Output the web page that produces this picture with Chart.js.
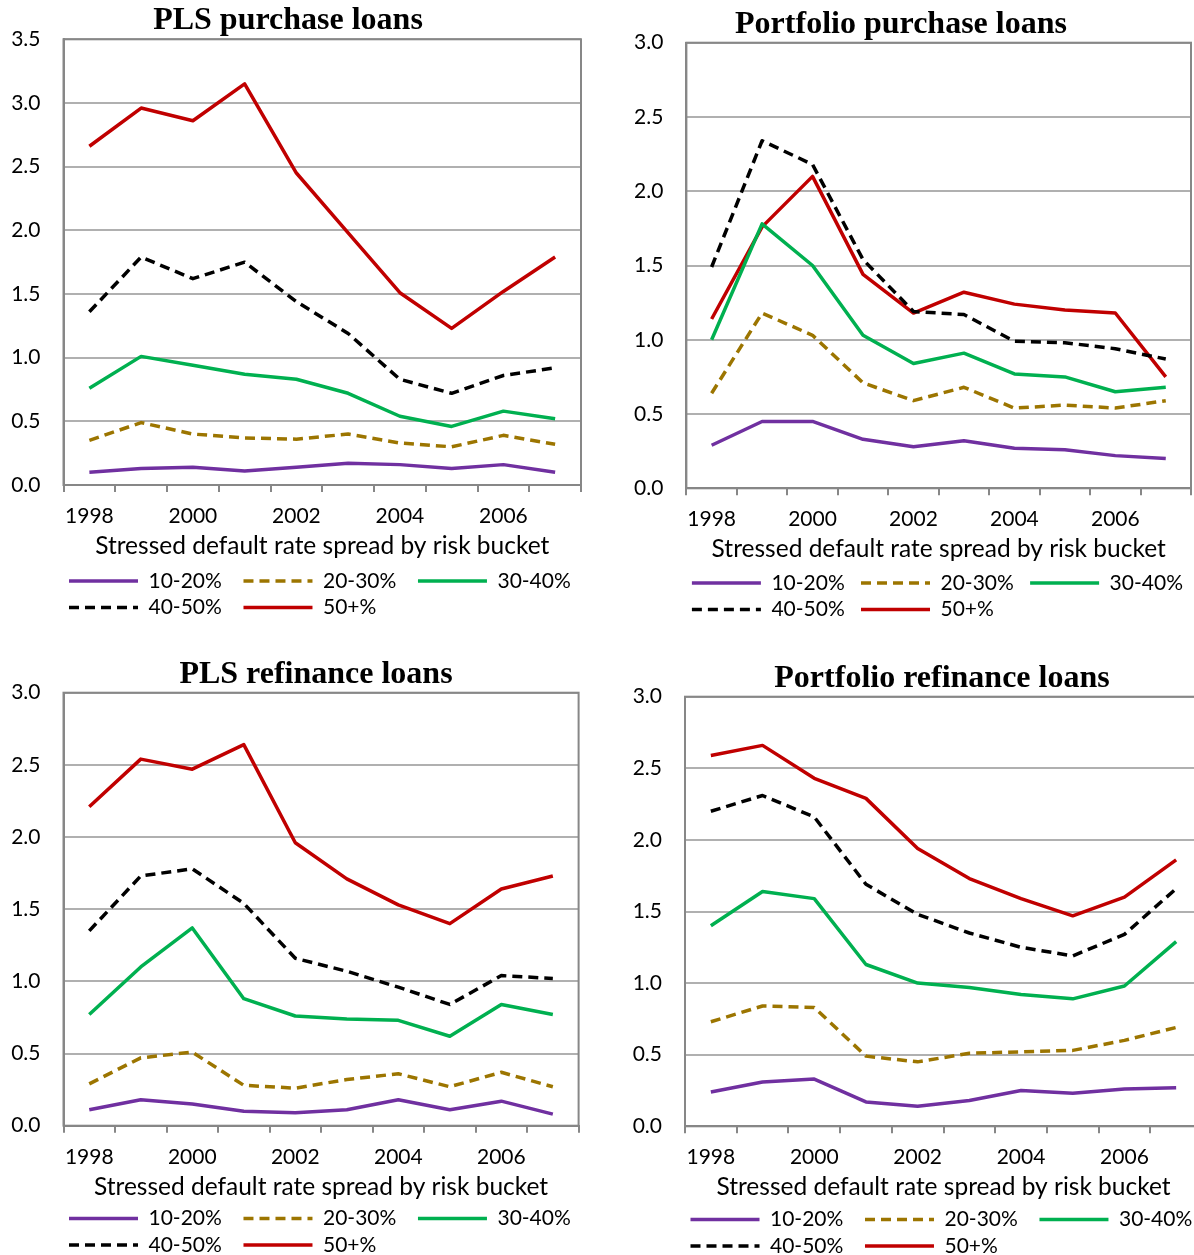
<!DOCTYPE html>
<html lang="en">
<head>
    <meta charset="UTF-8">
    <script src="https://cdn.jsdelivr.net/npm/chart.js"></script>
    <title>Stressed default rate spread by risk bucket</title>
    <style>
        html, body { margin: 0; padding: 0; background: #fff; overflow: hidden; width: 1194px; height: 1255px; }
        canvas { position: absolute; }
    </style>
</head>
<body>
    <canvas id="plsPurchaseChart" width="600" height="630" style="left:-10px; top:0px;"></canvas>
    <canvas id="portPurchaseChart" width="594" height="632" style="left:600px; top:0px;"></canvas>
    <canvas id="plsRefiChart" width="632" height="636" style="left:0px; top:630px;"></canvas>
    <canvas id="portRefiChart" width="684" height="637" style="left:600px; top:630px;"></canvas>
    <script>
        // categories and series names
        const years = ['1998', '1999', '2000', '2001', '2002', '2003', '2004', '2005', '2006', '2007'];
        const buckets = ['10-20%', '20-30%', '30-40%', '40-50%', '50+%'];
        const yTicks = [0, 0.5, 1.0, 1.5, 2.0, 2.5, 3.0, 3.5];

        // PLS purchase loans
        const plsPurchase1020 = [0.10, 0.13, 0.14, 0.11, 0.14, 0.17, 0.16, 0.13, 0.16, 0.10];
        const plsPurchase2030 = [0.35, 0.49, 0.40, 0.37, 0.36, 0.40, 0.33, 0.30, 0.39, 0.32];
        const plsPurchase3040 = [0.76, 1.01, 0.94, 0.87, 0.83, 0.72, 0.54, 0.46, 0.58, 0.52];
        const plsPurchase4050 = [1.36, 1.79, 1.62, 1.75, 1.44, 1.19, 0.83, 0.72, 0.86, 0.92];
        const plsPurchase50 = [2.66, 2.96, 2.86, 3.15, 2.45, 1.98, 1.51, 1.23, 1.52, 1.79];

        // Portfolio purchase loans
        const portPurchase1020 = [0.29, 0.45, 0.45, 0.33, 0.28, 0.32, 0.27, 0.26, 0.22, 0.20];
        const portPurchase2030 = [0.64, 1.18, 1.03, 0.71, 0.59, 0.68, 0.54, 0.56, 0.54, 0.59];
        const portPurchase3040 = [1.00, 1.78, 1.50, 1.03, 0.84, 0.91, 0.77, 0.75, 0.65, 0.68];
        const portPurchase4050 = [1.49, 2.34, 2.18, 1.54, 1.19, 1.17, 0.99, 0.98, 0.94, 0.87];
        const portPurchase50 = [1.14, 1.76, 2.10, 1.44, 1.18, 1.32, 1.24, 1.20, 1.18, 0.75];

        // PLS refinance loans
        const plsRefi1020 = [0.11, 0.18, 0.15, 0.10, 0.09, 0.11, 0.18, 0.11, 0.17, 0.08];
        const plsRefi2030 = [0.29, 0.47, 0.51, 0.28, 0.26, 0.32, 0.36, 0.27, 0.37, 0.27];
        const plsRefi3040 = [0.77, 1.10, 1.37, 0.88, 0.76, 0.74, 0.73, 0.62, 0.84, 0.77];
        const plsRefi4050 = [1.35, 1.73, 1.78, 1.54, 1.16, 1.07, 0.96, 0.84, 1.04, 1.02];
        const plsRefi50 = [2.21, 2.54, 2.47, 2.64, 1.96, 1.71, 1.53, 1.40, 1.64, 1.73];

        // Portfolio refinance loans
        const portRefi1020 = [0.24, 0.31, 0.33, 0.17, 0.14, 0.18, 0.25, 0.23, 0.26, 0.27];
        const portRefi2030 = [0.73, 0.84, 0.83, 0.49, 0.45, 0.51, 0.52, 0.53, 0.60, 0.69];
        const portRefi3040 = [1.40, 1.64, 1.59, 1.13, 1.00, 0.97, 0.92, 0.89, 0.98, 1.29];
        const portRefi4050 = [2.20, 2.31, 2.16, 1.69, 1.48, 1.35, 1.25, 1.19, 1.34, 1.66];
        const portRefi50 = [2.59, 2.66, 2.43, 2.29, 1.94, 1.73, 1.59, 1.47, 1.60, 1.86];

        const lineColors = ['#7030A0', '#9C7500', '#00B050', '#000000', '#C00000'];
        const lineDashes = [[], [10, 6], [], [10, 6], []];
        const sans = 'Lato';

        // draws the grey box round the plot area
        const plotFrame = {
            id: 'plotFrame',
            beforeDatasetsDraw(chart) {
                const { ctx, chartArea: a } = chart;
                ctx.save();
                ctx.strokeStyle = '#878787';
                ctx.lineWidth = 2;
                ctx.strokeRect(a.left, a.top, a.right - a.left, a.bottom - a.top);
                ctx.restore();
            }
        };

        function drawPanel(id, title, yMax, series, g) {
            const ctx = document.getElementById(id).getContext('2d');
            const scales = {
                x: {
                    offset: true,
                    afterFit(scale) { scale.height = g.xH; },
                    grid: {
                        offset: true,
                        drawOnChartArea: false,
                        drawTicks: true,
                        tickLength: 7,
                        color: '#878787',
                        lineWidth: 2,
                    },
                    border: { color: '#878787', width: 2 },
                    ticks: {
                        autoSkip: false,
                        maxRotation: 0,
                        padding: 11.5,
                        color: '#000',
                        font: { family: sans, size: 21 },
                        callback: (v, i) => (i % 2 === 0 ? years[i] : ''),
                    },
                    title: {
                        display: true,
                        text: 'Stressed default rate spread by risk bucket',
                        color: '#000',
                        font: { family: sans, size: 24.5 },
                        padding: { top: 0, bottom: g.xTitleBottom },
                    },
                },
                y: {
                    min: 0,
                    max: yMax,
                    afterFit(scale) { scale.width = g.yW; },
                    afterBuildTicks(scale) {
                        scale.ticks = yTicks.filter(v => v <= yMax).map(v => ({ value: v }));
                    },
                    grid: { color: '#b0b0b0', lineWidth: 2, drawTicks: false },
                    border: { color: '#878787', width: 2 },
                    ticks: {
                        padding: 23,
                        color: '#000',
                        font: { family: sans, size: 21 },
                        callback: v => v.toFixed(1),
                    },
                },
            };
            if (g.rightW) {
                // empty strip on the right so the title sits where it does in the source
                scales.yPad = {
                    type: 'linear',
                    position: 'right',
                    grid: { display: false },
                    border: { display: false },
                    ticks: { display: false },
                    afterFit(scale) { scale.width = g.rightW; },
                };
            }
            new Chart(ctx, {
                type: 'line',
                data: {
                    labels: years,
                    datasets: series.map((values, i) => ({
                        label: buckets[i],
                        data: values,
                        borderColor: lineColors[i],
                        backgroundColor: lineColors[i],
                        borderWidth: 3.5,
                        borderDash: lineDashes[i],
                        borderJoinStyle: 'round',
                        pointRadius: 0,
                        tension: 0,
                    })),
                },
                options: {
                    responsive: false,
                    animation: false,
                    layout: { padding: { left: g.padL, right: g.padR, top: 0, bottom: g.padB } },
                    plugins: {
                        title: {
                            display: true,
                            text: title,
                            color: '#000',
                            font: { family: 'Liberation Serif', size: 32, weight: 'bold', lineHeight: 1.1 },
                            padding: { top: g.titleTop, bottom: g.titleBottom },
                        },
                        legend: {
                            position: 'bottom',
                            align: 'start',
                            fullSize: false,
                            labels: {
                                usePointStyle: true,
                                pointStyle: 'line',
                                pointStyleWidth: 69,
                                padding: 5.5,
                                color: '#000',
                                font: { family: sans, size: 21 },
                                generateLabels(chart) {
                                    const items = Chart.defaults.plugins.legend.labels.generateLabels(chart);
                                    items.forEach((item, i) => {
                                        item.strokeStyle = lineColors[i];
                                        item.lineWidth = 3.5;
                                        item.lineDash = lineDashes[i];
                                        if (i !== 2 && i !== 4) item.text = item.text + g.gap;
                                    });
                                    return items;
                                },
                            },
                        },
                        tooltip: { enabled: false },
                    },
                    scales: scales,
                },
                plugins: [plotFrame],
            });
        }

        drawPanel('plsPurchaseChart', 'PLS purchase loans', 3.5,
            [plsPurchase1020, plsPurchase2030, plsPurchase3040, plsPurchase4050, plsPurchase50],
            { padL: 5, padR: 9, padB: 2, yW: 68.5, rightW: 0, xH: 80, titleTop: 3.6, titleBottom: 0.5, xTitleBottom: 4.3, gap: '   ' });

        drawPanel('portPurchaseChart', 'Portfolio purchase loans', 3.0,
            [portPurchase1020, portPurchase2030, portPurchase3040, portPurchase4050, portPurchase50],
            { padL: 11, padR: 3, padB: 2, yW: 75.4, rightW: 0, xH: 78.7, titleTop: 7.5, titleBottom: 0, xTitleBottom: 3.3, gap: '  ' });

        drawPanel('plsRefiChart', 'PLS refinance loans', 3.0,
            [plsRefi1020, plsRefi2030, plsRefi3040, plsRefi4050, plsRefi50],
            { padL: 0, padR: 0, padB: 0.5, yW: 63.5, rightW: 53.4, xH: 76.8, titleTop: 26.9, titleBottom: 0.6, xTitleBottom: 0.8, gap: '   ' });

        drawPanel('portRefiChart', 'Portfolio refinance loans', 3.0,
            [portRefi1020, portRefi2030, portRefi3040, portRefi4050, portRefi50],
            { padL: 0, padR: 0, padB: 0.5, yW: 85, rightW: 82, xH: 77.2, titleTop: 30.9, titleBottom: 0.6, xTitleBottom: 1.8, gap: '   ' });
    </script>
</body>
</html>
